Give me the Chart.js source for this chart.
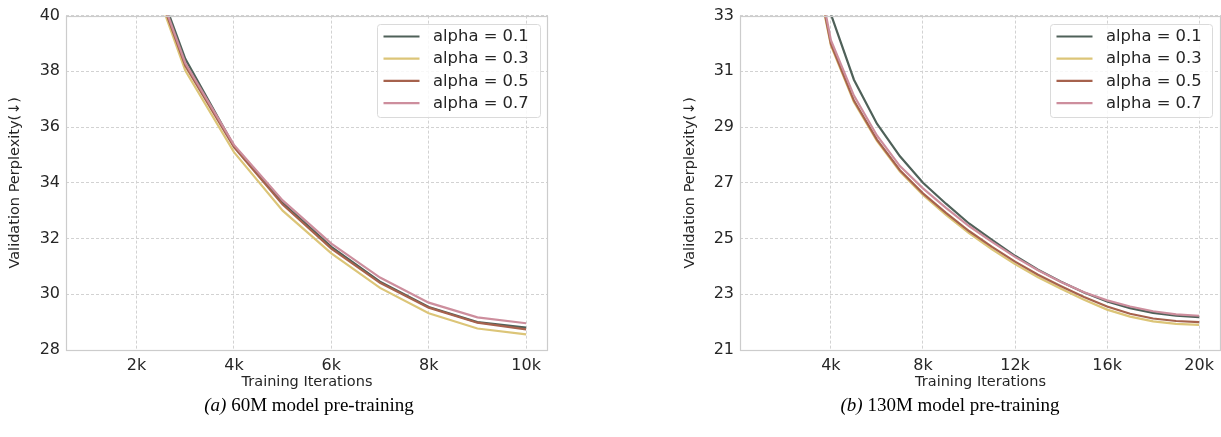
<!DOCTYPE html>
<html><head><meta charset="utf-8">
<script src="https://cdn.jsdelivr.net/npm/chart.js@4.4.0/dist/chart.umd.min.js"></script>
<style>
html,body{margin:0;padding:0;background:#fff;}
#wrap{position:relative;width:1221px;height:437px;overflow:hidden;background:#fff;}
.box{position:absolute;top:0;}
.cap{position:absolute;font-family:"Liberation Serif","Times New Roman",serif;font-size:19px;color:#000;white-space:nowrap;transform:translate(-50%,-50%);}
</style></head><body>
<div id="wrap">
<div class="box" style="left:0;width:560px;height:395px"><canvas id="c1" width="560" height="395"></canvas></div>
<div class="box" style="left:660px;width:561px;height:395px"><canvas id="c2" width="561" height="395"></canvas></div>
<div class="cap" style="left:309px;top:405px"><i>(a)</i> 60M model pre-training</div>
<div class="cap" style="left:950px;top:405px"><i>(b)</i> 130M model pre-training</div>
</div>
<script>
// ---------- data ----------
const seriesLabels = ['alpha = 0.1', 'alpha = 0.3', 'alpha = 0.5', 'alpha = 0.7'];
const seriesColors = ['#4f6159', '#dcc578', '#a6624d', '#cd8e9d'];

// (a) 60M
const itersA = [1000, 2000, 3000, 4000, 5000, 6000, 7000, 8000, 9000, 10000];
const a01_A = [58.0, 43.2, 38.45, 35.32, 33.28, 31.70, 30.45, 29.54, 29.00, 28.80];
const a03_A = [57.0, 42.9, 38.03, 35.10, 33.00, 31.47, 30.23, 29.32, 28.77, 28.56];
const a05_A = [57.5, 43.0, 38.20, 35.28, 33.22, 31.64, 30.41, 29.52, 28.98, 28.74];
const a07_A = [57.8, 43.1, 38.30, 35.36, 33.37, 31.82, 30.60, 29.70, 29.17, 28.96];
const xTickValsA = [2000, 4000, 6000, 8000, 10000];
const xTickLabelsA = ['2k', '4k', '6k', '8k', '10k'];
const yTickValsA = [28, 30, 32, 34, 36, 38, 40];

// (b) 130M
const itersB = [1000, 2000, 3000, 4000, 5000, 6000, 7000, 8000, 9000, 10000,
                11000, 12000, 13000, 14000, 15000, 16000, 17000, 18000, 19000, 20000];
const a01_B = [70.0, 45.0, 37.2, 33.05, 30.70, 29.12, 27.95, 27.00, 26.25, 25.54,
               24.95, 24.38, 23.88, 23.45, 23.06, 22.74, 22.50, 22.33, 22.23, 22.18];
const a03_B = [67.0, 43.7, 36.0, 31.93, 29.90, 28.50, 27.40, 26.56, 25.85, 25.19,
               24.61, 24.08, 23.61, 23.20, 22.80, 22.45, 22.20, 22.03, 21.94, 21.90];
const a05_B = [67.0, 43.8, 36.1, 31.98, 29.95, 28.55, 27.45, 26.62, 25.92, 25.27,
               24.70, 24.17, 23.70, 23.29, 22.90, 22.56, 22.30, 22.13, 22.04, 22.00];
const a07_B = [68.0, 44.0, 36.3, 32.12, 30.13, 28.70, 27.60, 26.80, 26.10, 25.45,
               24.88, 24.34, 23.86, 23.44, 23.07, 22.78, 22.56, 22.39, 22.28, 22.23];
const xTickValsB = [4000, 8000, 12000, 16000, 20000];
const xTickLabelsB = ['4k', '8k', '12k', '16k', '20k'];
const yTickValsB = [21, 23, 25, 27, 29, 31, 33];

// ---------- plugins ----------
const frame = {
  id: 'frame',
  afterDatasetsDraw(chart) {
    const {ctx, chartArea: a} = chart;
    ctx.save();
    ctx.strokeStyle = '#cccccc';
    ctx.lineWidth = 1.2;
    ctx.strokeRect(Math.round(a.left) + 0.5, Math.round(a.top) + 0.5,
                   Math.round(a.right - a.left) - 1, Math.round(a.bottom - a.top));
    ctx.restore();
  }
};
const boxLegend = {
  id: 'boxLegend',
  afterDraw(chart, args, opts) {
    const {ctx, chartArea: a} = chart;
    const w = opts.width, h = 93;
    const x = Math.round(a.right - opts.inset - w), y = Math.round(a.top + 8);
    ctx.save();
    ctx.beginPath();
    ctx.roundRect(x + 0.5, y + 0.5, w, h, 3);
    ctx.fillStyle = 'rgba(255,255,255,0.85)';
    ctx.fill();
    ctx.strokeStyle = '#dadada';
    ctx.lineWidth = 1;
    ctx.stroke();
    ctx.font = '16.4px "DejaVu Sans"';
    ctx.textBaseline = 'middle';
    chart.data.datasets.forEach((ds, i) => {
      const cy = y + 12.5 + i * 22.2;
      ctx.strokeStyle = ds.borderColor;
      ctx.lineWidth = 2.2;
      ctx.beginPath();
      ctx.moveTo(x + 6.5, cy);
      ctx.lineTo(x + 42.5, cy);
      ctx.stroke();
      ctx.fillStyle = '#262626';
      ctx.fillText(ds.label, x + 56, cy + 0.5);
    });
    ctx.restore();
  }
};

function makeChart(id, iters, series, xMin, xMax, xTickVals, xTickLabels, yTickVals,
                   yWidth, yTitlePad, padRight, legendW, legendInset) {
  const datasets = series.map((vals, i) => ({
    label: seriesLabels[i],
    data: iters.map((x, j) => ({x: x, y: vals[j]})),
    borderColor: seriesColors[i],
    backgroundColor: seriesColors[i],
    borderWidth: 2.2,
    pointRadius: 0,
    tension: 0,
    clip: 0,
    order: series.length - i
  }));
  const tickFont = {family: 'DejaVu Sans', size: 16};
  const titleFont = {family: 'DejaVu Sans', size: 14.5};
  return new Chart(document.getElementById(id), {
    type: 'line',
    data: {datasets},
    plugins: [frame, boxLegend],
    options: {
      responsive: false,
      animation: false,
      events: [],
      layout: {padding: {top: 15, right: padRight, left: 0, bottom: 0}},
      plugins: {
        legend: {display: false},
        tooltip: {enabled: false},
        boxLegend: {width: legendW, inset: legendInset}
      },
      scales: {
        x: {
          type: 'linear',
          min: xMin, max: xMax,
          afterBuildTicks: s => { s.ticks = xTickVals.map(v => ({value: v})); },
          afterFit: s => { s.height = 45; },
          ticks: {
            font: tickFont, color: '#262626', padding: 6, maxRotation: 0,
            callback: v => xTickLabels[xTickVals.indexOf(v)]
          },
          grid: {color: '#d2d2d2', lineWidth: 1, drawTicks: false, tickLength: 0},
          border: {display: false, dash: [3, 2]},
          title: {display: true, text: 'Training Iterations', font: titleFont,
                  color: '#262626', padding: {top: 0, bottom: 4}}
        },
        y: {
          type: 'linear',
          min: yTickVals[0], max: yTickVals[yTickVals.length - 1],
          afterBuildTicks: s => { s.ticks = yTickVals.map(v => ({value: v})); },
          afterFit: s => { s.width = yWidth; },
          ticks: {font: tickFont, color: '#262626', padding: 6},
          grid: {color: '#d2d2d2', lineWidth: 1, drawTicks: false, tickLength: 0},
          border: {display: false, dash: [3, 2]},
          title: {display: true, text: 'Validation Perplexity(↓)', font: titleFont,
                  color: '#262626', padding: {top: yTitlePad, bottom: 0}}
        }
      }
    }
  });
}

makeChart('c1', itersA, [a01_A, a03_A, a05_A, a07_A], 550, 10450,
          xTickValsA, xTickLabelsA, yTickValsA, 66, 7, 12, 163, 8);
makeChart('c2', itersB, [a01_B, a03_B, a05_B, a07_B], 50, 20950,
          xTickValsB, xTickLabelsB, yTickValsB, 80, 22, 0, 162, 9);
</script>
</body></html>
